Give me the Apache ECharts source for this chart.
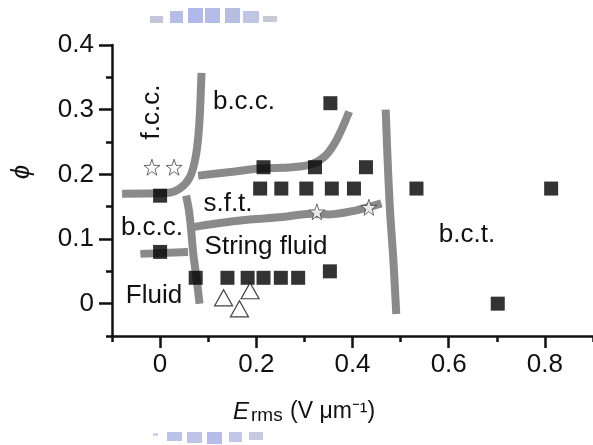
<!DOCTYPE html>
<html><head><meta charset="utf-8">
<script src="https://cdn.jsdelivr.net/npm/echarts@6/dist/echarts.min.js"></script>
<style>html,body{margin:0;padding:0;background:#fff}#c{width:593px;height:445px}</style>
</head><body><div id="c"></div>
<script>
// ---- data ----
const xTickLabels = [0, 0.2, 0.4, 0.6, 0.8];
const yTickLabels = [0, 0.1, 0.2, 0.3, 0.4];
const squares = [[0.0,0.167],[0.0,0.08],[0.074,0.04],[0.14,0.04],[0.182,0.04],[0.215,0.04],[0.251,0.04],[0.287,0.04],[0.353,0.05],
  [0.208,0.178],[0.252,0.178],[0.304,0.178],[0.357,0.178],[0.403,0.178],[0.533,0.178],[0.813,0.178],
  [0.215,0.211],[0.322,0.211],[0.428,0.211],[0.354,0.31],[0.702,0.0]];
const stars = [[-0.017,0.211],[0.029,0.211],[0.326,0.142],[0.434,0.149]];
const triangles = [[0.132,0.009],[0.187,0.02],[0.165,-0.008]];
const fccBccBoundary = [[0.086,0.357],[0.081,0.273],[0.074,0.227],[0.062,0.196],[0.041,0.178],[0.014,0.171],[-0.079,0.170]];
const bccSftBoundary = [[0.079,0.198],[0.151,0.204],[0.206,0.209],[0.275,0.211],[0.316,0.216],[0.344,0.229],[0.368,0.255],[0.393,0.297]];
const sftStringBoundary = [[0.065,0.118],[0.117,0.124],[0.186,0.130],[0.254,0.134],[0.316,0.139],[0.351,0.138],[0.406,0.144],[0.460,0.155]];
const fluidBoundary = [[0.054,0.167],[0.060,0.144],[0.064,0.118],[0.069,0.077],[0.076,0.038],[0.082,0.0]];
const bccStringBoundary = [[-0.041,0.077],[0.058,0.080]];
const bctBoundary = [[0.469,0.300],[0.473,0.222],[0.478,0.144],[0.485,0.067],[0.491,-0.016]];

const FONT = '"Liberation Sans", Arial, Helvetica, sans-serif';
const STAR = 'path://M50,0 L61.8,35.1 L98.1,35.1 L68.8,56.8 L79.4,91 L50,70 L20.6,91 L31.2,56.8 L1.9,35.1 L38.2,35.1 Z';

const chart = echarts.init(document.getElementById('c'), null, {renderer:'canvas'});
const boundaries = [fccBccBoundary, bccSftBoundary, sftStringBoundary, fluidBoundary, bccStringBoundary, bctBoundary];
const lineSeries = boundaries.map(b => ({
  type:'line', data:b, smooth:0.35, symbol:'none', silent:true, z:1,
  lineStyle:{color:'#8a8a8a', width:8, cap:'butt'}
}));

function txt(x, y, s, size, rot, style) {
  return {type:'text', x:x, y:y, rotation: rot||0, z:10,
    style:{text:s, fill:'#111', font:(style||'')+' '+size+'px '+FONT, textAlign:'center', textVerticalAlign:'middle'}};
}
function blk(x, y, w, h, c) { return {type:'rect', shape:{x:x,y:y,width:w,height:h}, style:{fill:c}, z:0}; }

const axisLineStyle = {color:'#111', width:2.5};
const option = {
  animation:false,
  backgroundColor:'#fff',
  grid:{left:112, top:45, width:485, height:291},
  xAxis:[
    {type:'value', min:-0.1, max:0.9, interval:0.1, position:'bottom',
     axisLine:{show:true, onZero:false, lineStyle:axisLineStyle},
     axisTick:{show:true, length:6, lineStyle:axisLineStyle},
     axisLabel:{show:false}, splitLine:{show:false}},
    {type:'value', min:-0.1, max:0.9, position:'bottom',
     axisLine:{show:false, onZero:false},
     axisTick:{show:true, length:12, lineStyle:axisLineStyle, customValues:xTickLabels},
     axisLabel:{show:true, customValues:xTickLabels, margin:16, color:'#111', fontSize:26, fontFamily:FONT},
     splitLine:{show:false}}
  ],
  yAxis:[
    {type:'value', min:-0.05, max:0.4, interval:0.05, position:'left',
     axisLine:{show:true, onZero:false, lineStyle:axisLineStyle},
     axisTick:{show:true, length:6, lineStyle:axisLineStyle},
     axisLabel:{show:false}, splitLine:{show:false}},
    {type:'value', min:-0.05, max:0.4, position:'left',
     axisLine:{show:false, onZero:false},
     axisTick:{show:true, length:13, lineStyle:axisLineStyle, customValues:yTickLabels},
     axisLabel:{show:true, customValues:yTickLabels, margin:18, color:'#111', fontSize:26, fontFamily:FONT},
     splitLine:{show:false}}
  ],
  series: lineSeries.concat([
    {type:'scatter', data:squares, symbol:'rect', symbolSize:14, z:3, itemStyle:{color:'#000'}},
    {type:'scatter', data:stars, symbol:STAR, symbolSize:16, z:3, itemStyle:{color:'#fff', borderColor:'#444', borderWidth:1}},
    {type:'scatter', data:triangles, symbol:'triangle', symbolSize:[18,16], z:3, itemStyle:{color:'#fff', borderColor:'#111', borderWidth:1.2}}
  ]),
  graphic:[
    txt(152, 112, 'f.c.c.', 26, Math.PI/2),
    txt(244, 102, 'b.c.c.', 26),
    txt(228, 204, 's.f.t.', 26),
    txt(152, 228, 'b.c.c.', 26),
    txt(266, 247, 'String fluid', 26),
    txt(154, 296, 'Fluid', 26),
    txt(467, 235, 'b.c.t.', 26),
    txt(22, 172, 'ϕ', 26, Math.PI/2, 'italic'),
    {type:'text', x:233, y:412, z:10, style:{text:'E', fill:'#111', font:'italic 24px '+FONT, textAlign:'left', textVerticalAlign:'middle'}},
    {type:'text', x:251, y:416, z:10, style:{text:'rms', fill:'#111', font:'19px '+FONT, textAlign:'left', textVerticalAlign:'middle'}},
    {type:'text', x:290, y:412, z:10, style:{text:'(V \u03bcm\u207b\u00b9)', fill:'#111', font:'23px '+FONT, textAlign:'left', textVerticalAlign:'middle'}},
    blk(150,16,13,7,'#c2c6d8'), blk(170,11,13,12,'#b6bde6'), blk(188,8,15,15,'#b0b9ea'),
    blk(205,8,15,15,'#b4bce8'), blk(225,8,15,15,'#b8bedf'), blk(243,11,16,12,'#bfc5e4'), blk(263,16,14,6,'#c6cad8'),
    blk(153,433,5,3,'#d0d4ec'), blk(167,432,15,9,'#bcc3e8'), blk(187,432,15,11,'#bec4e6'),
    blk(207,432,15,12,'#b6bde8'), blk(229,432,13,10,'#c2c7e6'), blk(249,432,14,8,'#c5c9e2')
  ]
};
chart.setOption(option);
</script></body></html>
